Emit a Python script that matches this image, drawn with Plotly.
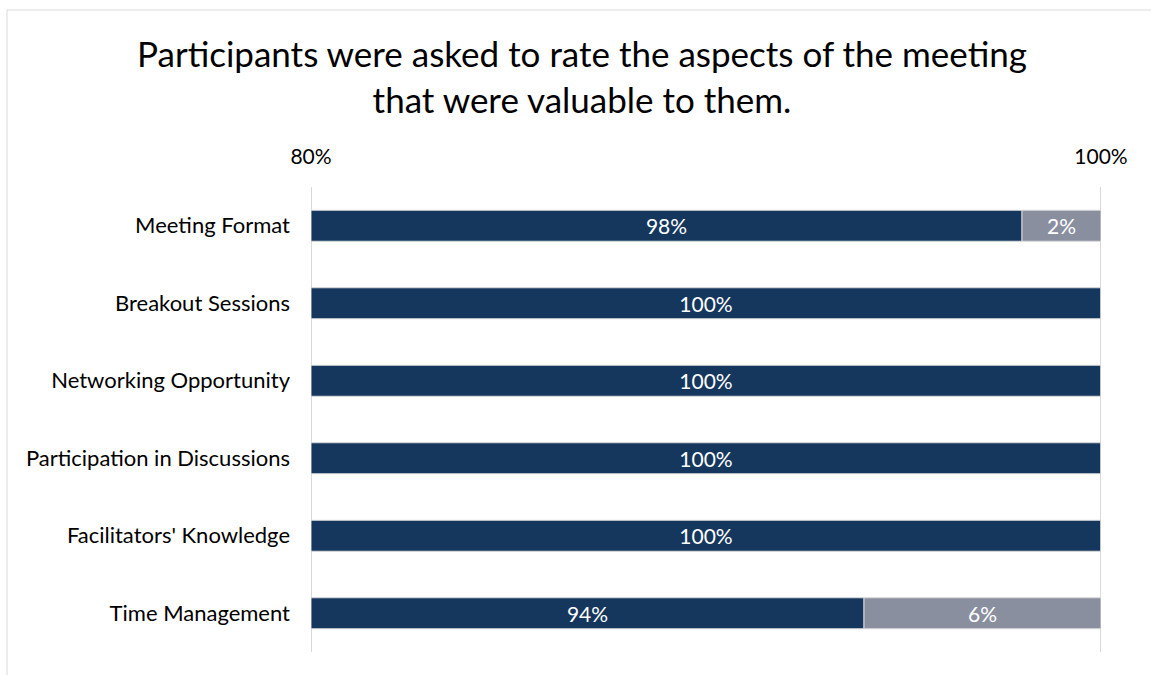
import plotly.graph_objects as go

categories = ["Meeting Format", "Breakout Sessions", "Networking Opportunity",
              "Participation in Discussions", "Facilitators' Knowledge", "Time Management"]
valuable = [98, 100, 100, 100, 100, 94]
not_valuable = [2, 0, 0, 0, 0, 6]
axis_min, axis_max = 80, 100
tick_vals = [80, 100]
tick_text = ["80%", "100%"]

NAVY = "#15375E"
GRAY = "#8A8FA0"
GRID = "#D9D9D9"
FONT = "Lato"

W, H = 1151, 675
L, R, T, B = 311, 50, 187, 23

fig = go.Figure()

for tv in tick_vals:
    fig.add_shape(type="line", xref="x", yref="paper", x0=tv, x1=tv, y0=0, y1=1,
                  line=dict(color=GRID, width=2), layer="below")

fig.add_trace(go.Bar(
    y=categories, x=[v - axis_min for v in valuable], base=[axis_min] * len(valuable),
    orientation="h", marker=dict(color=NAVY, line=dict(color=GRID, width=1)),
    text=[f"{v}%" for v in valuable], textposition="inside", insidetextanchor="middle",
    textfont=dict(color="white", size=21, family=FONT), name="Valuable",
))
fig.add_trace(go.Bar(
    y=categories, x=not_valuable, base=valuable,
    orientation="h", marker=dict(color=GRAY, line=dict(color=GRID, width=1)),
    text=[f"{v}%" if v > 0 else "" for v in not_valuable], textposition="inside",
    insidetextanchor="middle",
    textfont=dict(color="white", size=21, family=FONT), name="Not valuable",
))

pw = W - L - R
ph = H - T - B
fig.add_shape(type="rect", xref="paper", yref="paper",
              x0=(7 - L) / pw, x1=(W + 20 - L) / pw,
              y0=-(H + 20 - (H - B)) / ph, y1=((H - B) - 10) / ph,
              line=dict(color=GRID, width=1), fillcolor="rgba(0,0,0,0)", layer="below")

fig.update_layout(
    width=W, height=H, barmode="overlay", bargap=0.6,
    margin=dict(l=L, r=R, t=T, b=B),
    paper_bgcolor="white", plot_bgcolor="white", showlegend=False,
    font=dict(family=FONT, color="#000000"),
    title=dict(text="Participants were asked to rate the aspects of the meeting<br>that were valuable to them.",
               x=582 / W, xanchor="center", xref="container",
               y=1 - 67 / H, yanchor="top", yref="container",
               font=dict(size=35, family=FONT, color="#000000")),
    xaxis=dict(range=[axis_min, axis_max], side="top", tickvals=tick_vals, ticktext=tick_text,
               showgrid=False, zeroline=False, showline=False,
               ticks="", ticklabelstandoff=18, tickfont=dict(size=21, family=FONT, color="#000000")),
    yaxis=dict(categoryorder="array", categoryarray=categories, autorange="reversed",
               showgrid=False, zeroline=False, showline=False, ticks="",
               ticklabelstandoff=20, tickfont=dict(size=22, family=FONT, color="#000000")),
)

fig.write_html("out.html")
